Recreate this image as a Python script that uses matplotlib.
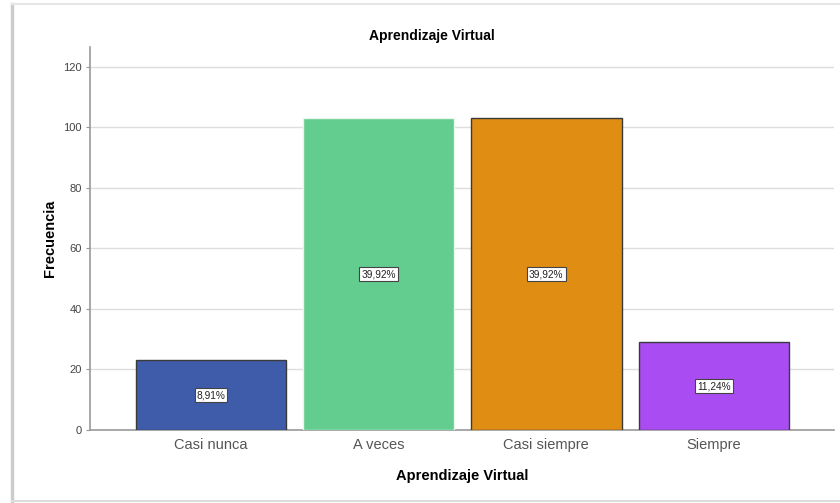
import matplotlib
matplotlib.use("Agg")
import matplotlib.pyplot as plt
from matplotlib.lines import Line2D

categories = ["Casi nunca", "A veces", "Casi siempre", "Siempre"]
counts = [23, 103, 103, 29]
pct_labels = ["8,91%", "39,92%", "39,92%", "11,24%"]
colors = ["#3F5CAA", "#62CD8F", "#E08D14", "#A94DF2"]
edges = ["#3a3a3a", "#e8f5ec", "#3a3a3a", "#3a3a3a"]
yticks = [0, 20, 40, 60, 80, 100, 120]

plt.rcParams['font.family'] = ['Liberation Sans', 'DejaVu Sans']

fig = plt.figure(figsize=(8.4, 5.03), dpi=100)
ax = fig.add_axes([90/840, 1-430/503, (834-90)/840, (430-47)/503])

x = range(len(categories))
ax.bar(x, counts, width=0.9, color=colors, edgecolor=edges, linewidth=1.0, zorder=3)

for i, (c, lab) in enumerate(zip(counts, pct_labels)):
    ax.text(i, c/2, lab, ha='center', va='center', fontsize=7.3, color='#222222', zorder=5,
            bbox=dict(boxstyle='square,pad=0.2', facecolor='white', edgecolor='#444444', linewidth=0.8))

ax.set_xlim(-0.7215, 3.716)
ax.set_ylim(0, 126.6)
ax.set_yticks(yticks)
ax.set_yticklabels([str(t) for t in yticks], fontsize=8, color='#444444')
ax.set_xticks(list(x))
ax.set_xticklabels(categories, fontsize=10.5, color='#555555')
ax.tick_params(axis='x', length=0, pad=6)
ax.tick_params(axis='y', length=3, color='#999999', pad=3)
ax.grid(axis='y', color='#dddddd', linewidth=1.0, zorder=0)

for s in ['top', 'right']:
    ax.spines[s].set_visible(False)
for s in ['left', 'bottom']:
    ax.spines[s].set_color('#9a9a9a')
    ax.spines[s].set_linewidth(1.2)

ax.set_ylabel("Frecuencia", fontsize=10.5, fontweight='bold', labelpad=4)
ax.set_xlabel("Aprendizaje Virtual", fontsize=10.5, fontweight='bold', labelpad=12)
fig.text(432/840, 1-36/503, "Aprendizaje Virtual", ha='center', va='center', fontsize=10, fontweight='bold')

# outer frame (card)
fig.add_artist(Line2D([12/840, 12/840], [1-501/503, 1-4/503], color='#cccccc', linewidth=2.5, transform=fig.transFigure))
fig.add_artist(Line2D([12/840, 1], [1-4/503, 1-4/503], color='#e6e6e6', linewidth=1.5, transform=fig.transFigure))
fig.add_artist(Line2D([12/840, 1], [1-501/503, 1-501/503], color='#dddddd', linewidth=1.5, transform=fig.transFigure))

fig.savefig("out.png", dpi=100)
